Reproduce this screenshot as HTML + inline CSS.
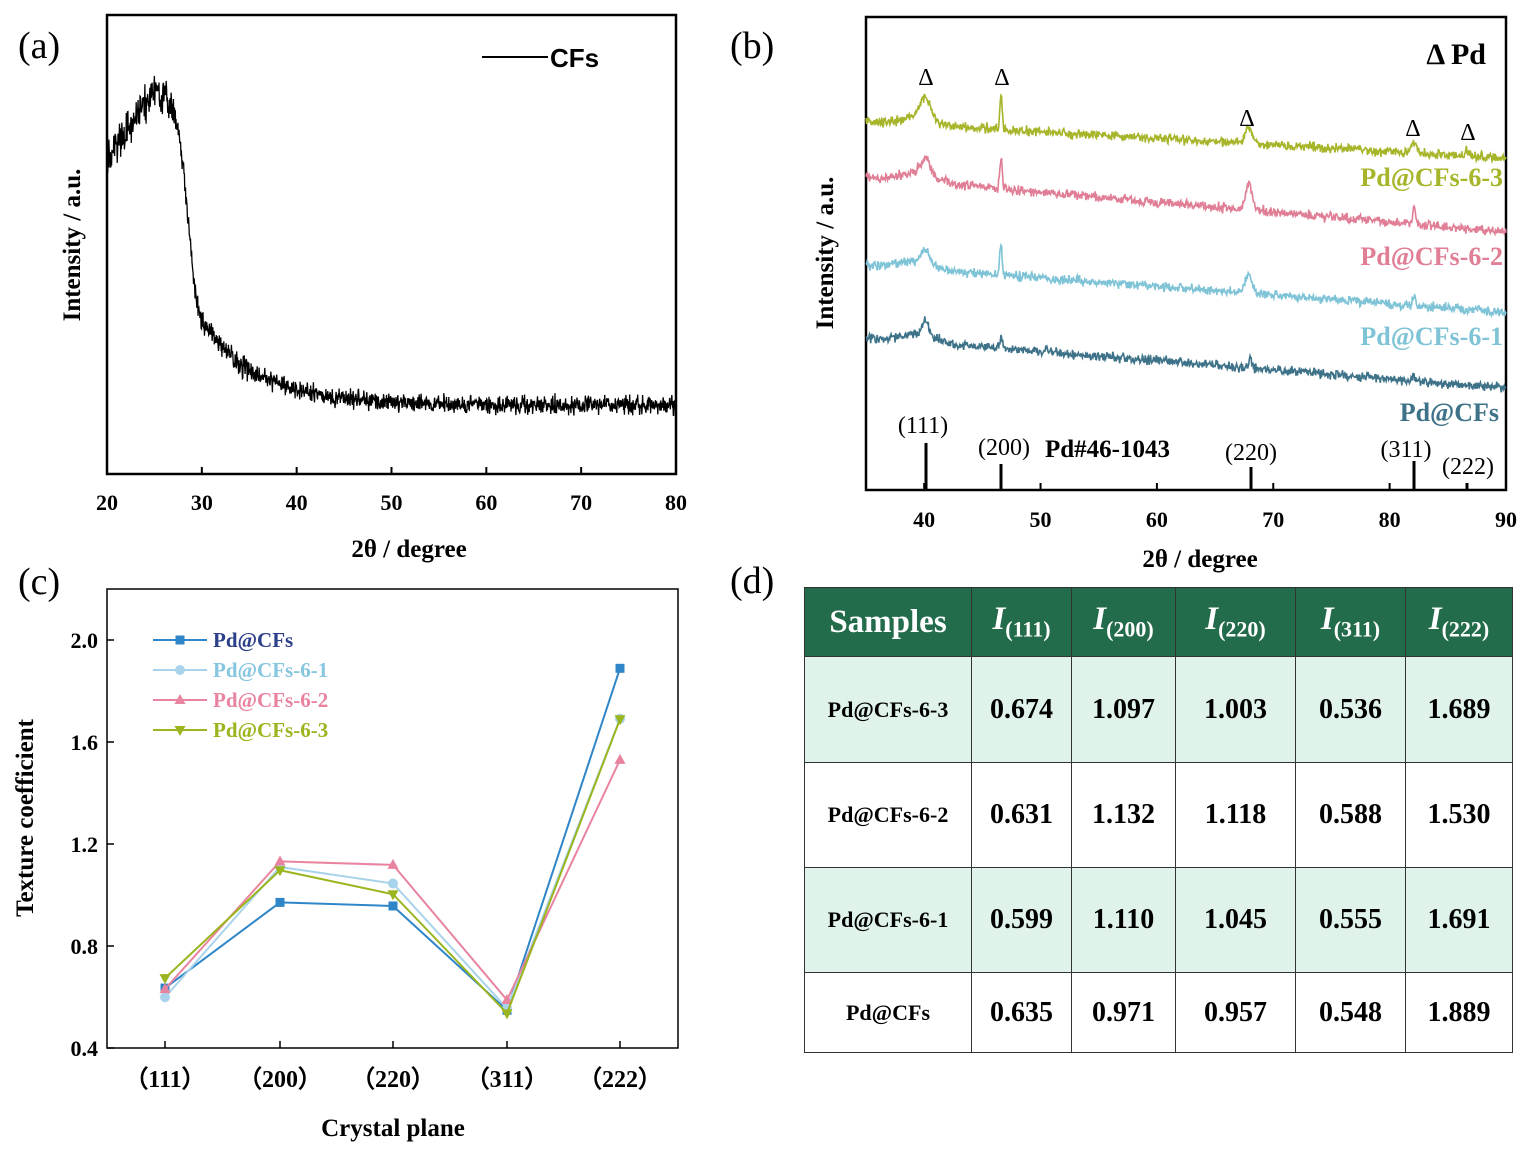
<!DOCTYPE html>
<html><head><meta charset="utf-8"><style>
html,body{margin:0;padding:0;background:#fff;}
body{width:1532px;height:1156px;position:relative;overflow:hidden;font-family:"Liberation Serif",serif;}
svg{position:absolute;left:0;top:0;}
table{position:absolute;left:804px;top:587px;border-collapse:collapse;font-family:"Liberation Serif",serif;font-weight:bold;}
td{border:1px solid #333;text-align:center;font-size:28px;padding:0;}
</style></head><body>
<svg width="1532" height="1156" viewBox="0 0 1532 1156" font-family="Liberation Serif, serif">
<g id="a">
<rect x="107" y="15" width="569" height="459" fill="none" stroke="#000" stroke-width="2.5"/>
<path id="pa" fill="none" stroke="#000" stroke-width="1.3"/>
<line x1="482" y1="57" x2="548" y2="57" stroke="#000" stroke-width="2"/>
<text x="550" y="67" font-family="Liberation Sans, sans-serif" font-weight="bold" font-size="26">CFs</text>
<g id="ta" font-size="22" font-weight="bold" text-anchor="middle"></g>
<text x="409" y="557" font-size="25" font-weight="bold" text-anchor="middle">2θ / degree</text>
<text transform="translate(80,245) rotate(-90)" font-size="25" font-weight="bold" text-anchor="middle">Intensity / a.u.</text>
<text x="18" y="58" font-size="38">(a)</text>
</g>
<g id="b">
<rect x="866" y="17" width="640" height="473" fill="none" stroke="#000" stroke-width="2.5"/>
<path id="p3" fill="none" stroke="#a7b52a" stroke-width="1.6"/>
<path id="p2" fill="none" stroke="#e07e95" stroke-width="1.6"/>
<path id="p1" fill="none" stroke="#7ec3d6" stroke-width="1.6"/>
<path id="p0" fill="none" stroke="#3d7288" stroke-width="1.6"/>
<g id="tb" font-size="22" font-weight="bold" text-anchor="middle"></g>
<text x="1200" y="567" font-size="25" font-weight="bold" text-anchor="middle">2θ / degree</text>
<text transform="translate(833,253) rotate(-90)" font-size="25" font-weight="bold" text-anchor="middle">Intensity / a.u.</text>
<text x="730" y="58" font-size="38">(b)</text>
<text x="1486" y="64" font-size="30" font-weight="bold" text-anchor="end">Δ Pd</text>
<g font-size="24" text-anchor="middle">
<text x="926" y="85">Δ</text><text x="1002" y="85">Δ</text><text x="1247" y="126">Δ</text><text x="1413" y="136">Δ</text><text x="1468" y="140">Δ</text>
</g>
<g font-size="26" font-weight="bold" text-anchor="end">
<text x="1503" y="186" fill="#a7b52a">Pd@CFs-6-3</text>
<text x="1503" y="265" fill="#e07e95">Pd@CFs-6-2</text>
<text x="1503" y="345" fill="#7ec3d6">Pd@CFs-6-1</text>
<text x="1499" y="421" fill="#3d7288">Pd@CFs</text>
</g>
<g stroke="#000" stroke-width="3">
<line x1="926" y1="443" x2="926" y2="490"/><line x1="1001" y1="464" x2="1001" y2="490"/><line x1="1251" y1="467" x2="1251" y2="490"/><line x1="1414" y1="461" x2="1414" y2="490"/><line x1="1467" y1="483" x2="1467" y2="490"/>
</g>
<g font-size="24">
<text x="923" y="433" text-anchor="middle">(111)</text><text x="1004" y="455" text-anchor="middle">(200)</text><text x="1251" y="460" text-anchor="middle">(220)</text><text x="1406" y="457" text-anchor="middle">(311)</text><text x="1468" y="474" text-anchor="middle">(222)</text>
<text x="1045" y="457" font-weight="bold" font-size="25">Pd#46-1043</text>
</g>
</g>
<g id="c">
<rect x="107" y="589" width="571" height="459" fill="none" stroke="#000" stroke-width="1.5"/>
<g id="tc"></g>
<g id="sc"></g>
<text x="18" y="594" font-size="38">(c)</text>
<text x="393" y="1136" font-size="25" font-weight="bold" text-anchor="middle">Crystal plane</text>
<text transform="translate(33,818) rotate(-90)" font-size="25" font-weight="bold" text-anchor="middle">Texture coefficient</text>
</g>
<text x="730" y="593" font-size="38">(d)</text>
</svg>
<table>
<tr style="height:69px;background:#226b4b;color:#fff;">
<td style="width:166px;font-size:33px;">Samples</td>
<td style="width:99px;font-size:33px;"><i>I</i><sub style="font-size:22px">(111)</sub></td>
<td style="width:103px;font-size:33px;"><i>I</i><sub style="font-size:22px">(200)</sub></td>
<td style="width:119px;font-size:33px;"><i>I</i><sub style="font-size:22px">(220)</sub></td>
<td style="width:109px;font-size:33px;"><i>I</i><sub style="font-size:22px">(311)</sub></td>
<td style="width:106px;font-size:33px;"><i>I</i><sub style="font-size:22px">(222)</sub></td>
</tr>
<tr style="height:106px;background:#e0f3ea"><td style="font-size:22px">Pd@CFs-6-3</td><td>0.674</td><td>1.097</td><td>1.003</td><td>0.536</td><td>1.689</td></tr>
<tr style="height:105px;background:#fff"><td style="font-size:22px">Pd@CFs-6-2</td><td>0.631</td><td>1.132</td><td>1.118</td><td>0.588</td><td>1.530</td></tr>
<tr style="height:105px;background:#e0f3ea"><td style="font-size:22px">Pd@CFs-6-1</td><td>0.599</td><td>1.110</td><td>1.045</td><td>0.555</td><td>1.691</td></tr>
<tr style="height:80px;background:#fff"><td style="font-size:22px">Pd@CFs</td><td>0.635</td><td>0.971</td><td>0.957</td><td>0.548</td><td>1.889</td></tr>
</table>
<script>
var s=12345;function r(){s=(s*16807)%2147483647;return s/2147483647;}
function n(){return (r()+r()+r()-1.5);}
var NS="http://www.w3.org/2000/svg";
function el(p,t,a,txt){var e=document.createElementNS(NS,t);for(var k in a)e.setAttribute(k,a[k]);if(txt!=null)e.textContent=txt;p.appendChild(e);return e;}
var d="";
for(var x=20;x<=80;x+=0.04){
 var y;
 if(x<25)y=160-(x-20)*14;
 else if(x<26.5)y=90+(x-25)*8;
 else if(x<31){var t=(x-26.5)/4.5;y=102+230*(1/(1+Math.exp(-(t-0.45)*9)));}
 else y=405-70*Math.exp(-(x-31)/6);
 var amp=x<27?18:(x<35?11:9);
 y+=n()*amp;
 var px=107+(x-20)*9.483;
 d+=(d?"L":"M")+px.toFixed(1)+" "+y.toFixed(1);
}
document.getElementById("pa").setAttribute("d",d);
var ta=document.getElementById("ta");
for(var v=20;v<=80;v+=10){var px=107+(v-20)*9.483;el(ta,"line",{x1:px,y1:474,x2:px,y2:467,stroke:"#000","stroke-width":2});el(ta,"text",{x:px,y:510},v);}
function pk(x,c,w,h){return h*Math.exp(-Math.pow((x-c)/w,2));}
function curve(id,y0,y1,P,amp){
 var d="";
 for(var x=35;x<=90;x+=0.05){
  var y=y0+(y1-y0)*(x-35)/55;
  y-=pk(x,39.5,2.0,8);
  for(var i=0;i<P.length;i++)y-=pk(x,P[i][0],P[i][1],P[i][2]);
  y+=n()*amp;
  var px=866+(x-35)*11.636;
  d+=(d?"L":"M")+px.toFixed(1)+" "+y.toFixed(1);
 }
 document.getElementById(id).setAttribute("d",d);
}
curve("p3",122,158,[[40.1,0.6,22],[46.6,0.15,33],[67.9,0.45,16],[82.1,0.3,10],[86.6,0.3,5]],4.5);
curve("p2",177,232,[[40.1,0.6,16],[46.6,0.15,30],[67.9,0.35,28],[82.1,0.15,15]],4.5);
curve("p1",265,312,[[40.1,0.5,12],[46.6,0.15,30],[67.9,0.4,18],[82.1,0.15,10]],4.5);
curve("p0",338,388,[[40.1,0.4,14],[46.6,0.15,12],[68,0.2,10],[82.1,0.15,6],[50.5,0.1,6]],4.5);
var tb=document.getElementById("tb");
for(var v=40;v<=90;v+=10){var px=866+(v-35)*11.636;el(tb,"line",{x1:px,y1:490,x2:px,y2:483,stroke:"#000","stroke-width":2});el(tb,"text",{x:px,y:527},v);}
var tc=document.getElementById("tc");
function Y(v){return 1048-(v-0.4)*255;}
[0.4,0.8,1.2,1.6,2.0].forEach(function(v){el(tc,"line",{x1:107,y1:Y(v),x2:114,y2:Y(v),stroke:"#000","stroke-width":1.5});el(tc,"text",{x:98,y:Y(v)+8,"text-anchor":"end","font-size":22,"font-weight":"bold"},v.toFixed(1));});
var X=[165,280,393,507,620],L=["(111)","(200)","(220)","(311)","(222)"];
X.forEach(function(x,i){el(tc,"line",{x1:x,y1:1048,x2:x,y2:1041,stroke:"#000","stroke-width":1.5});el(tc,"text",{x:x,y:1087,"text-anchor":"middle","font-size":24,"font-weight":"bold"},"\uFF08"+L[i].slice(1,-1)+"\uFF09");});
var S=[["Pd@CFs","#2e86c8","#2b3f8a","sq",[0.635,0.971,0.957,0.548,1.889]],
["Pd@CFs-6-1","#a8d3ea","#86c6df","ci",[0.599,1.110,1.045,0.555,1.691]],
["Pd@CFs-6-2","#e8849f","#e8849f","tu",[0.631,1.132,1.118,0.588,1.530]],
["Pd@CFs-6-3","#9ab51e","#9ab51e","td",[0.674,1.097,1.003,0.536,1.689]]];
var sc=document.getElementById("sc");
function mk(t,x,y,c){if(t=="sq")el(sc,"rect",{x:x-4.5,y:y-4.5,width:9,height:9,fill:c});
 else if(t=="ci")el(sc,"circle",{cx:x,cy:y,r:5,fill:c});
 else if(t=="tu")el(sc,"path",{d:"M"+x+" "+(y-6)+"L"+(x+5.5)+" "+(y+4)+"L"+(x-5.5)+" "+(y+4)+"Z",fill:c});
 else el(sc,"path",{d:"M"+x+" "+(y+6)+"L"+(x+5.5)+" "+(y-4)+"L"+(x-5.5)+" "+(y-4)+"Z",fill:c});}
S.forEach(function(s,k){
 var d="";s[4].forEach(function(v,i){d+=(i?"L":"M")+X[i]+" "+Y(v);});
 el(sc,"path",{d:d,fill:"none",stroke:s[1],"stroke-width":2});
 s[4].forEach(function(v,i){mk(s[3],X[i],Y(v),s[1]);});
 var ly=640+k*30;
 el(sc,"line",{x1:153,y1:ly,x2:207,y2:ly,stroke:s[1],"stroke-width":2});mk(s[3],180,ly,s[1]);
 el(sc,"text",{x:213,y:ly+7,"font-size":21,"font-weight":"bold",fill:s[2]},s[0]);
});
</script>
</body></html>
